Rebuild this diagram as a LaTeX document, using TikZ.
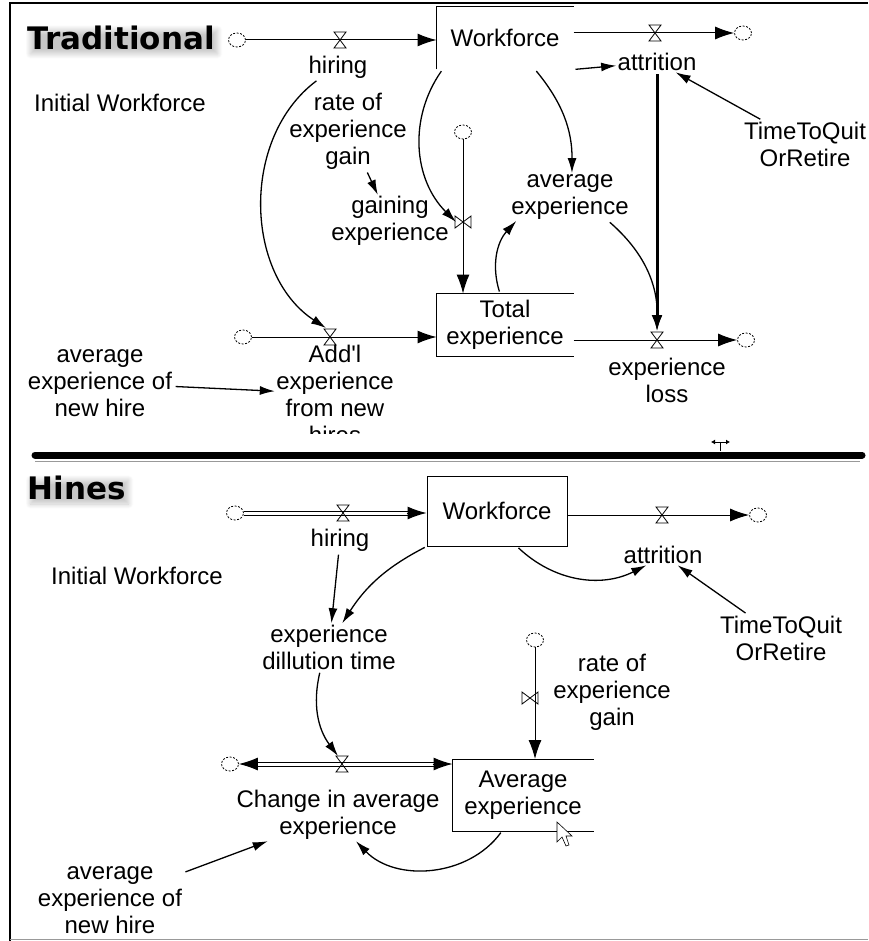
\documentclass[tikz,border=0pt]{standalone}
\usepackage{fontspec}
\setmainfont{Liberation Sans}
\newfontfamily\titlefont{DejaVu Sans}
\usetikzlibrary{arrows.meta,shapes.geometric,shadows.blur}
\begin{document}
\begin{tikzpicture}[x=1pt,y=-1pt,line width=1pt,
every node/.style={font=\fontsize{24}{27}\selectfont,align=center,inner sep=1pt},
title/.style={font=\titlefont\bfseries\fontsize{31}{34}\selectfont,anchor=west,inner sep=0pt,
  blur shadow={shadow xshift=3pt,shadow yshift=-4pt,shadow opacity=22,shadow blur steps=10,shadow blur radius=5pt}},
stock/.style={minimum width=136,minimum height=62,inner sep=0},
cloud/.style={draw,ellipse,line width=0.8pt,dash pattern=on 2pt off 1.5pt,minimum width=17,minimum height=14,inner sep=0},
flow/.style={-{Latex[length=19pt,width=13pt]}},
dflow/.style={double,double distance=3pt,line width=1pt},
link/.style={-{Latex[length=15pt,width=9pt]},line width=1.3pt,shorten <=2pt},
valve/.pic={\draw[line width=0.8pt] (-6,-8) -- (6,-8) -- (-6,8) -- (6,8) -- cycle;}]

\useasboundingbox (0,0) rectangle (868,941);
\draw[line width=1.5pt] (10,941) -- (10,3) -- (868,3);
\draw[black!40] (10,939) -- (868,939);

\node[title] (trad) at (27,38) {Traditional};
\node[stock] (wf1) at (505,38) {Workforce};
\node[stock] (tot1) at (505,325) {Total\\experience};
\node[cloud] (c1) at (237,40) {};
\node[cloud] (c2) at (743,33) {};
\node[cloud] (c3) at (463,132) {};
\node[cloud] (c4) at (243,337) {};
\node[cloud] (c5) at (746,340) {};
\coordinate (v1) at (340,40);
\coordinate (v2) at (655,33);
\coordinate (v3) at (463,222);
\coordinate (v4) at (330,337);
\coordinate (v5) at (657,340);
\node (hire1) at (338,67) {hiring};
\node (att1) at (657,62) {attrition};
\node (ttq1) at (805,144) {TimeToQuit\\OrRetire};
\node (iw1) at (120,103) {Initial Workforce};
\node (reg1) at (348,131) {rate of\\experience\\gain};
\node (gain1) at (390,221) {gaining\\experience};
\node (avg1) at (570,197) {average\\experience};
\begin{scope}
\clip (0,0) rectangle (868,433);
\node (add1) at (335,394) {Add\textquotesingle l\\experience\\from new\\hires};
\end{scope}
\node (anh1) at (100,383) {average\\experience of\\new hire};
\node (loss1) at (667,380) {experience\\loss};

\draw (wf1.south west) -- (wf1.north west) -- (wf1.north east);
\draw (tot1.north east) -- (tot1.north west) -- (tot1.south west) -- (tot1.south east);
\draw[flow] (c1) -- (c1 -| wf1.west);
\pic at (v1) {valve};
\draw[flow] (wf1.east |- c2) -- (c2);
\pic at (v2) {valve};
\draw[flow] (c3) -- (c3 |- tot1.north);
\pic[rotate=90] at (v3) {valve};
\draw[flow] (c4) -- (c4 -| tot1.west);
\pic at (v4) {valve};
\draw[flow] (tot1.east |- c5) -- (c5);
\pic at (v5) {valve};

\draw[link] (wf1.south east) -- (att1);
\draw[link] (ttq1) -- (att1);
\draw[link,line width=3pt,-{Latex[length=16pt,width=11pt]}] (att1) -- ([yshift=9pt]v5);
\draw[link] (reg1) -- (gain1);
\draw[link] ([xshift=6pt]wf1.south west) to[bend right=40] ([xshift=-7pt]v3);
\draw[link] (hire1) to[bend right=55] ([xshift=-4pt,yshift=9pt]v4);
\draw[link] ([xshift=30pt]wf1.south) to[bend left=20] (avg1);
\draw[link] ([xshift=-5pt]tot1.north) to[bend left=30] (avg1);
\draw[link] (avg1) to[bend left=25] ([yshift=9pt]v5);
\draw[link] (anh1) -- (add1);

\draw[line width=7pt,line cap=round] (35,455) -- (862,455);
\draw[black!40] (35,461) -- (860,461);
\draw[line width=0.8pt,{Latex[length=4pt,width=5pt]}-{Latex[length=4pt,width=5pt]}] (711,442) -- (730,442);
\draw[line width=0.8pt] (720,442) -- (720,451);

\node[title] (hines) at (27,488) {Hines};
\node[stock,draw,minimum width=140,minimum height=70] (wf2) at (497,511) {Workforce};
\node[stock,minimum width=140,minimum height=71] (ae2) at (523,795) {Average\\experience};
\node[cloud] (c6) at (235,513) {};
\node[cloud] (c7) at (758,515) {};
\node[cloud] (c8) at (230,764) {};
\node[cloud] (c9) at (535,640) {};
\coordinate (v6) at (343,513);
\coordinate (v7) at (662,515);
\coordinate (v8) at (342,764);
\coordinate (v9) at (530,698);
\node (hire2) at (340,540) {hiring};
\node (att2) at (663,555) {attrition};
\node (ttq2) at (781,638) {TimeToQuit\\OrRetire};
\node (iw2) at (137,576) {Initial Workforce};
\node (dt2) at (329,647) {experience\\dillution time};
\node (ch2) at (338,815) {Change in average\\experience};
\node (reg2) at (612,692) {rate of\\experience\\gain};
\node (anh2) at (110,900) {average\\experience of\\new hire};

\draw[dflow,shorten >=16pt] (c6) -- (c6 -| wf2.west);
\draw[flow] ([xshift=-20pt]wf2.west |- c6) -- (wf2.west |- c6);
\pic at (v6) {valve};
\draw[flow] (wf2.east |- c7) -- (c7);
\pic at (v7) {valve};
\draw (ae2.north east) -- (ae2.north west) -- (ae2.south west) -- (ae2.south east);
\draw[flow] (c9) -- (c9 |- ae2.north);
\pic[rotate=90] at (v9) {valve};
\draw[dflow,shorten <=16pt,shorten >=16pt] (c8) -- (c8 -| ae2.west);
\draw[flow] ([xshift=19pt]c8.east) -- (c8.east);
\draw[flow] ([xshift=-20pt]ae2.west |- c8) -- (ae2.west |- c8);
\pic at (v8) {valve};

\draw[link] ([xshift=20pt]wf2.south) to[bend right=35] (att2);
\draw[link] (ttq2) -- (att2);
\draw[link] (hire2) -- (dt2);
\draw[link] (wf2.south west) to[bend right=15] (dt2);
\draw[link] (dt2) to[bend right=25] ([xshift=-4pt,yshift=8pt]v8);
\draw[link] ([xshift=-21pt]ae2.south) to[bend left=50] (ch2);
\draw[link] (anh2) -- (ch2);
\draw[fill=white,line width=0.6pt] (557,822) -- (557,842) -- (562,837) -- (566,846) -- (569,845) -- (566,836) -- (572,836) -- cycle;
\end{tikzpicture}
\end{document}
